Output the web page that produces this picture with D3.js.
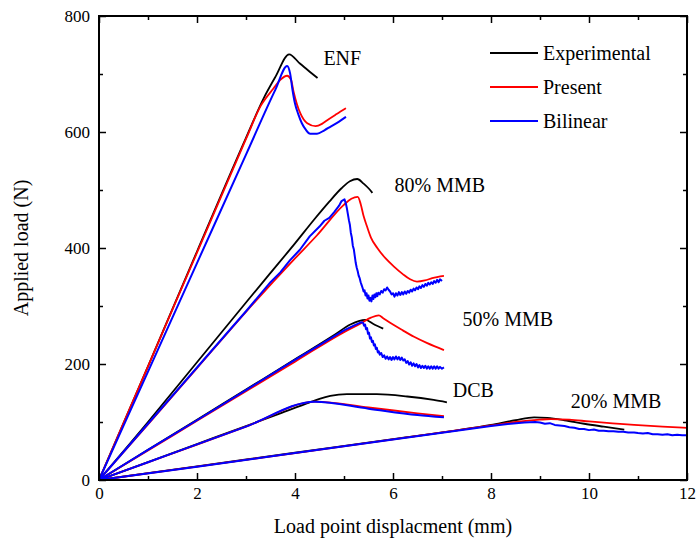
<!DOCTYPE html>
<html><head><meta charset="utf-8">
<script src="https://cdn.jsdelivr.net/npm/d3@7"></script>
<style>body{margin:0;background:#fff}svg{display:block}text{font-family:"Liberation Serif","Times New Roman",serif;fill:#000}</style>
</head><body><svg id="c" width="697" height="545"></svg>
<script>
// ---- data ----
const xTicks = [0, 2, 4, 6, 8, 10, 12];
const yTicks = [0, 200, 400, 600, 800];
const seriesNames = ["Experimental", "Present", "Bilinear"];
const seriesColors = ["#000000", "#ff0000", "#0000ff"];
const caseLabels = ["ENF", "80% MMB", "50% MMB", "DCB", "20% MMB"];
const caseLabelPos = [[4.58, 715], [6.03, 497], [7.42, 266], [7.22, 143], [9.63, 124]];

// ENF
const expENF = [[0,0],[1,196],[2,394],[3,590],[3.36,658],[3.6,695],[3.88,734],[4.1,718],[4.3,704],[4.46,693]];
const preENF = [[0,0],[1,196],[2,392],[3,588],[3.3,645],[3.56,675],[3.7,690],[3.84,697],[3.92,690],[3.97,670],[4.04,648],[4.11,632],[4.25,615],[4.42,610],[4.55,614],[4.65,620],[4.85,631],[5.04,641]];
const bilENF = [[0,0],[1,187],[2,374],[3,561],[3.6,673],[3.84,714],[3.9,701],[3.95,672],[4.0,649],[4.07,630],[4.14,615],[4.22,604],[4.31,597],[4.45,597],[4.6,603],[4.72,609],[4.9,618],[5.04,626]];
// 80% MMB
const exp80 = [[0,0],[1,100],[2,203],[3,306],[3.5,357],[4.0,408],[4.4,450],[4.7,480],[4.95,503],[5.12,515],[5.27,519],[5.4,511],[5.5,503],[5.58,495]];
const pre80 = [[0,0],[1,96],[2,193],[3,290],[4,382],[4.45,422],[4.99,474],[5.15,485],[5.28,488],[5.34,476],[5.4,455],[5.47,437],[5.55,418],[5.68,400],[5.85,382],[6.02,368],[6.2,355],[6.35,346],[6.49,342],[6.65,344],[6.8,348],[7.04,352]];
const bil80 = [[0,0],[1,97],[2,194],[3,291],[3.5,341],[3.7,358],[3.9,379],[4.1,397],[4.3,420],[4.5,437],[4.6,447],[4.7,452],[4.8,462],[4.9,473],[4.95,481],[5.01,484],[5.04,476],[5.06,468],[5.08,458],[5.10,448],[5.12,440],[5.14,426],[5.16,418],[5.18,404],[5.20,398],[5.22,386],[5.24,374],[5.26,366],[5.28,360],[5.30,352],[5.32,348],[5.34,341],[5.36,336],[5.38,331],[5.40,325],[5.42,327],[5.44,318],[5.46,322],[5.48,313],[5.50,318],[5.52,309],[5.54,314],[5.56,308],[5.58,318],[5.60,312],[5.62,320],[5.64,315],[5.66,322],[5.68,317],[5.70,323],[5.73,320],[5.76,326],[5.79,323],[5.82,329],[5.85,327],[5.88,332],[5.91,328],[5.94,325],[5.97,320],[6.00,322],[6.03,316],[6.06,322],[6.09,318],[6.12,324],[6.15,319],[6.18,324],[6.21,320],[6.24,325],[6.27,321],[6.30,326],[6.33,323],[6.36,328],[6.39,325],[6.42,330],[6.45,327],[6.48,332],[6.51,329],[6.54,334],[6.57,331],[6.60,336],[6.63,333],[6.66,338],[6.69,335],[6.72,340],[6.75,337],[6.78,341],[6.81,338],[6.84,343],[6.87,340],[6.90,345],[6.93,341],[6.96,346],[7.00,343]];
// 50% MMB
const exp50 = [[0,0],[1,52],[2,104],[3,156],[4,208],[4.8,250],[5.13,268],[5.3,274],[5.44,276],[5.6,269],[5.8,261]];
const pre50 = [[0,0],[1,51],[2,102],[3,153],[4,204],[5.0,255],[5.34,270],[5.55,280],[5.71,284],[5.8,279],[6.0,268],[6.2,258],[6.43,247],[6.7,236],[7.04,224]];
const bil50 = [[0,0],[1,52],[2,103],[3,155],[4,207],[5.0,258],[5.2,266],[5.3,270],[5.36,272],[5.39,271],[5.41,266],[5.43,268],[5.45,260],[5.47,262],[5.49,252],[5.51,254],[5.53,244],[5.55,246],[5.57,238],[5.59,240],[5.61,232],[5.63,234],[5.65,226],[5.67,228],[5.69,220],[5.71,222],[5.73,216],[5.76,219],[5.79,212],[5.82,215],[5.85,209],[5.88,213],[5.91,208],[5.94,212],[5.97,207],[6.00,212],[6.03,208],[6.06,213],[6.09,208],[6.12,212],[6.15,207],[6.18,211],[6.21,206],[6.24,208],[6.27,202],[6.30,205],[6.33,199],[6.36,203],[6.39,197],[6.42,201],[6.45,196],[6.48,200],[6.51,194],[6.54,198],[6.57,193],[6.60,197],[6.63,193],[6.66,197],[6.69,192],[6.72,196],[6.75,192],[6.78,196],[6.81,192],[6.84,196],[6.87,192],[6.90,196],[6.93,192],[6.96,195],[7.00,192],[7.04,194]];
// DCB
const expDCB = [[0,0],[1,31],[2,62],[3,93],[3.7,115],[4.3,134],[4.5,140],[4.72,145],[5.06,148],[5.67,148],[6.29,144],[6.83,138],[7.1,134]];
const preDCB = [[0,0],[1,30.5],[2,61],[3,92],[4.42,135],[5.5,125],[6.5,115],[7.04,110]];
const bilDCB = [[0,0],[1,30.7],[2,61.4],[3,92],[4.40,135],[5.5,123],[6.5,112],[7.04,108]];
// 20% MMB
const exp20 = [[0,0],[2,23.5],[4,47],[6,70.5],[8,95],[8.5,103],[8.88,108],[9.15,107],[9.5,103],[9.9,97],[10.3,92],[10.72,87]];
const pre20 = [[0,0],[2,23],[4,46.5],[6,70],[8,94],[8.5,100],[9.0,104],[9.22,105],[9.6,104],[10.0,101],[10.92,95],[11.5,92],[12,90]];
const bil20 = [[0,0],[2,23],[4,46.5],[6,70],[8.0,93],[8.4,97],[8.68,99],[8.9,100],[9.0,99],[9.1,97],[9.2,98],[9.3,95],[9.4,94],[9.5,93],[9.6,91],[9.7,90],[9.8,88],[9.9,88],[10.0,86],[10.1,87],[10.2,85],[10.3,85],[10.4,84],[10.5,84],[10.6,83],[10.7,83],[10.8,82],[10.92,82],[11.0,81],[11.1,80],[11.2,81],[11.3,79],[11.4,79],[11.5,78],[11.6,79],[11.7,77],[11.8,78],[11.9,77],[12,77]];

// ---- chart ----
const svg = d3.select("#c");
const L = 99, R = 687, T = 16, B = 480;
const x = d3.scaleLinear().domain([0, 12]).range([L, R]);
const y = d3.scaleLinear().domain([0, 800]).range([B, T]);

const plot = svg.append("g");
const smooth = d3.line().x(d => x(d[0])).y(d => y(d[1])).curve(d3.curveMonotoneX);
const jag = d3.line().x(d => x(d[0])).y(d => y(d[1]));

const groups = [
  [expENF, preENF, bilENF, false],
  [exp80, pre80, bil80, true],
  [exp50, pre50, bil50, true],
  [expDCB, preDCB, bilDCB, false],
  [exp20, pre20, bil20, true]
];
groups.forEach(g => {
  plot.append("path").attr("d", smooth(g[0])).attr("fill", "none").attr("stroke", seriesColors[0]).attr("stroke-width", 1.8);
});
groups.forEach(g => {
  plot.append("path").attr("d", smooth(g[1])).attr("fill", "none").attr("stroke", seriesColors[1]).attr("stroke-width", 1.8);
});
groups.forEach(g => {
  plot.append("path").attr("d", (g[3] ? jag : smooth)(g[2])).attr("fill", "none").attr("stroke", seriesColors[2]).attr("stroke-width", 2).attr("stroke-linejoin", "round");
});

// case labels
caseLabels.forEach((t, i) => {
  svg.append("text").attr("x", x(caseLabelPos[i][0])).attr("y", y(caseLabelPos[i][1]))
    .attr("text-anchor", "start").attr("font-size", 20).text(t);
});

// axes
function minorTicks(a, b, step) { const r = []; for (let v = a; v <= b + 1e-9; v += step) r.push(v); return r; }
const xMinor = minorTicks(1, 11, 2);
const yMinor = minorTicks(100, 700, 200);

function styleAxis(g) {
  g.select(".domain").remove();
  g.selectAll("line").attr("stroke", "#000").attr("stroke-width", 1.5);
  g.selectAll("text").attr("font-size", 17).attr("font-family", "Liberation Serif, serif");
}
const gx = svg.append("g").attr("transform", `translate(0,${B})`)
  .call(d3.axisBottom(x).tickValues(xTicks).tickSize(-7).tickPadding(7).tickFormat(d3.format("d")));
styleAxis(gx);
const gxm = svg.append("g").attr("transform", `translate(0,${B})`)
  .call(d3.axisBottom(x).tickValues(xMinor).tickSize(-4).tickFormat(""));
styleAxis(gxm);
const gt = svg.append("g").attr("transform", `translate(0,${T})`)
  .call(d3.axisTop(x).tickValues(xTicks).tickSize(-7).tickFormat(""));
styleAxis(gt);
const gtm = svg.append("g").attr("transform", `translate(0,${T})`)
  .call(d3.axisTop(x).tickValues(xMinor).tickSize(-4).tickFormat(""));
styleAxis(gtm);
const gy = svg.append("g").attr("transform", `translate(${L},0)`)
  .call(d3.axisLeft(y).tickValues(yTicks).tickSize(-7).tickPadding(9).tickFormat(d3.format("d")));
styleAxis(gy);
const gym = svg.append("g").attr("transform", `translate(${L},0)`)
  .call(d3.axisLeft(y).tickValues(yMinor).tickSize(-4).tickFormat(""));
styleAxis(gym);
const gr = svg.append("g").attr("transform", `translate(${R},0)`)
  .call(d3.axisRight(y).tickValues(yTicks).tickSize(-7).tickFormat(""));
styleAxis(gr);
const grm = svg.append("g").attr("transform", `translate(${R},0)`)
  .call(d3.axisRight(y).tickValues(yMinor).tickSize(-4).tickFormat(""));
styleAxis(grm);

svg.append("rect").attr("x", L).attr("y", T).attr("width", R - L).attr("height", B - T)
  .attr("fill", "none").attr("stroke", "#000").attr("stroke-width", 2);

// axis titles
svg.append("text").attr("x", (L + R) / 2).attr("y", 533).attr("text-anchor", "middle")
  .attr("font-size", 20).text("Load point displacment (mm)");
svg.append("text").attr("transform", `translate(28,${(T + B) / 2}) rotate(-90)`).attr("text-anchor", "middle")
  .attr("font-size", 20).text("Applied load (N)");

// legend
const lg = svg.append("g");
seriesNames.forEach((n, i) => {
  const yy = 53 + i * 34;
  lg.append("line").attr("x1", 490).attr("x2", 538).attr("y1", yy).attr("y2", yy)
    .attr("stroke", seriesColors[i]).attr("stroke-width", 1.8);
  lg.append("text").attr("x", 543).attr("y", yy + 7).attr("font-size", 20).text(n);
});
</script></body></html>
